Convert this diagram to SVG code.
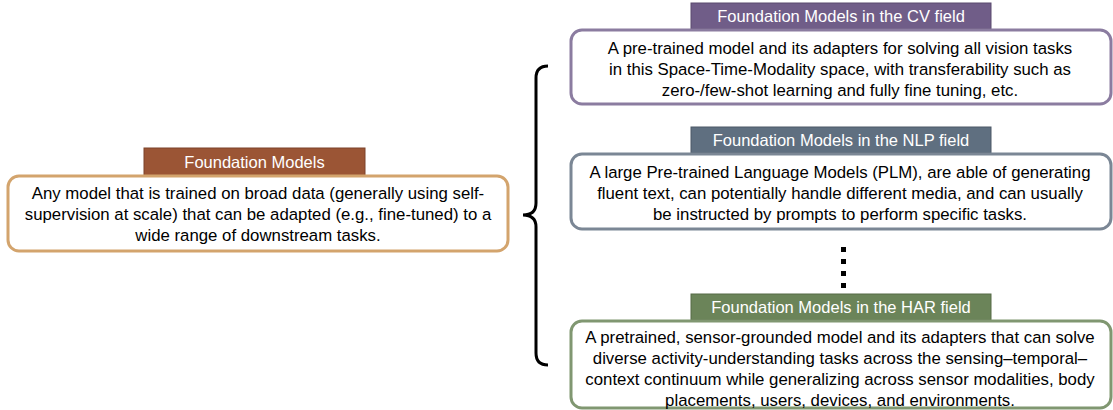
<svg xmlns="http://www.w3.org/2000/svg" width="1113" height="410" viewBox="0 0 1113 410">
<style>
.t{font-family:"Liberation Sans",Arial,sans-serif;font-size:16.8px;fill:#000;text-anchor:middle}
.h{font-family:"Liberation Sans",Arial,sans-serif;font-size:16.5px;fill:#fff;text-anchor:middle}
.box{fill:#fff;stroke-width:3}
</style>
<rect width="1113" height="410" fill="#fff"/>
<g id="connectors">
<path d="M548,66 Q536,66 536,78 L536,203 Q536,215 523,215 Q536,215 536,227 L536,353 Q536,365 548,365" fill="none" stroke="#000" stroke-width="3"/>
<g fill="#000"><rect x="841" y="247" width="5" height="5"/><rect x="841" y="259" width="5" height="5"/><rect x="841" y="271" width="5" height="5"/><rect x="841" y="283" width="5" height="5"/></g>
</g>
<g id="fm">
<rect x="144" y="148" width="221" height="28" fill="#9B5535" stroke="#7d432a" stroke-width="1"/>
<text class="h" x="254.5" y="168">Foundation Models</text>
<rect class="box" x="8" y="176" width="500" height="75" rx="11" stroke="#D3A46D"/>
<text class="t" x="258" y="199">Any model that is trained on broad data (generally using self-</text>
<text class="t" x="258" y="220">supervision at scale) that can be adapted (e.g., fine-tuned) to a</text>
<text class="t" x="258" y="241">wide range of downstream tasks.</text>
</g>
<g id="cv">
<rect x="691" y="3" width="300" height="26" fill="#705D88" stroke="#5a4a6e" stroke-width="1"/>
<text class="h" x="841" y="22">Foundation Models in the CV field</text>
<rect class="box" x="571" y="30" width="540" height="74" rx="11" stroke="#8B7CA0"/>
<text class="t" x="840" y="54">A pre-trained model and its adapters for solving all vision tasks</text>
<text class="t" x="840" y="75">in this Space-Time-Modality space, with transferability such as</text>
<text class="t" x="840" y="96">zero-/few-shot learning and fully fine tuning, etc.</text>
</g>
<g id="nlp">
<rect x="691" y="127" width="300" height="26" fill="#5F6F80" stroke="#4c5966" stroke-width="1"/>
<text class="h" x="841" y="146">Foundation Models in the NLP field</text>
<rect class="box" x="571" y="154" width="540" height="75" rx="11" stroke="#7B8795"/>
<text class="t" x="840" y="178">A large Pre-trained Language Models (PLM), are able of generating</text>
<text class="t" x="840" y="199">fluent text, can potentially handle different media, and can usually</text>
<text class="t" x="840" y="220">be instructed by prompts to perform specific tasks.</text>
</g>
<g id="har">
<rect x="691" y="294" width="300" height="26" fill="#6B8459" stroke="#566a47" stroke-width="1"/>
<text class="h" x="841" y="313">Foundation Models in the HAR field</text>
<rect class="box" x="571" y="321" width="540" height="87" rx="11" stroke="#809771"/>
<text class="t" x="840" y="343">A pretrained, sensor-grounded model and its adapters that can solve</text>
<text class="t" x="840" y="364">diverse activity-understanding tasks across the sensing–temporal–</text>
<text class="t" x="840" y="385">context continuum while generalizing across sensor modalities, body</text>
<text class="t" x="840" y="406">placements, users, devices, and environments.</text>
</g>
</svg>
